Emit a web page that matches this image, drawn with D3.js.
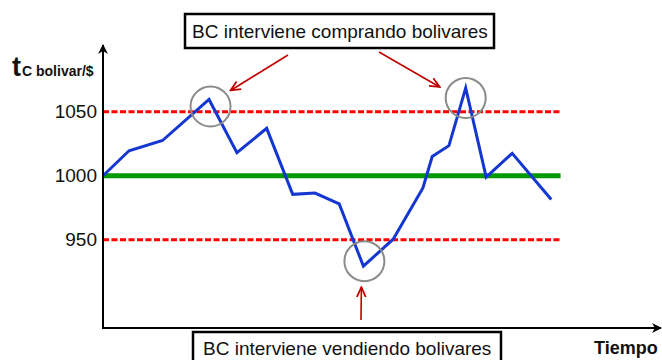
<!DOCTYPE html>
<html>
<head>
<meta charset="utf-8">
<script src="https://cdn.jsdelivr.net/npm/d3@7"></script>
<style>
  html, body { margin: 0; padding: 0; background: #fff; }
  svg { display: block; font-family: "Liberation Sans", Arial, sans-serif; }
</style>
</head>
<body>
<svg id="chart" width="662" height="360"></svg>
<script>
// ---- data ----
const timePoints = [0, 1.4, 3.2, 5.7, 7.2, 8.8, 10.2, 11.4, 12.7, 14.0, 15.6, 17.2, 17.7, 18.6, 19.5, 20.6, 22.0, 24.1];
const exchangeRate = [1000, 1019.5, 1027.5, 1059.5, 1018, 1037, 985.5, 986.5, 978, 929.5, 950.5, 990.5, 1015, 1023.5, 1068.5, 999, 1017.5, 981.5];
const bandLevels = [950, 1050];
const centralLevel = 1000;
const tickValues = [950, 1000, 1050];
const bandEnd = 24.6;
const interventionIdx = [3, 14, 9]; // points circled
const labelTop = "BC interviene comprando bolivares";
const labelBottom = "BC interviene vendiendo bolivares";
const yTitleMain = "t";
const yTitleSub = "C bolivar/$";
const xTitle = "Tiempo";

// ---- layout ----
const svg = d3.select("#chart");
const x0 = 103, x1 = 661, yBase = 328, yTop = 45;
const x = d3.scaleLinear().domain([0, 30]).range([x0, x1]);
const y = d3.scaleLinear().domain([881.25, 1102]).range([yBase, yTop]);

const defs = svg.append("defs");
defs.append("marker").attr("id", "axArrow").attr("viewBox", "0 0 10 10")
  .attr("refX", 9).attr("refY", 5).attr("markerWidth", 10).attr("markerHeight", 10)
  .attr("markerUnits", "userSpaceOnUse").attr("orient", "auto")
  .append("path").attr("d", "M0,0 L10,5 L0,10 L3,5 Z").attr("fill", "#000");
defs.append("marker").attr("id", "redArrow").attr("viewBox", "0 0 10 10")
  .attr("refX", 9).attr("refY", 5).attr("markerWidth", 11).attr("markerHeight", 11)
  .attr("markerUnits", "userSpaceOnUse").attr("orient", "auto")
  .append("path").attr("d", "M0,1 L9,5 L0,9").attr("fill", "none")
  .attr("stroke", "#c00000").attr("stroke-width", 1.6);

// band lines
svg.selectAll("line.band").data(bandLevels).join("line").attr("class", "band")
  .attr("x1", x(0)).attr("x2", x(bandEnd))
  .attr("y1", d => y(d)).attr("y2", d => y(d))
  .attr("stroke", "#ff0000").attr("stroke-width", 3).attr("stroke-dasharray", "6,2.5");

// central line
svg.append("line").attr("x1", x(0)).attr("x2", x(bandEnd))
  .attr("y1", y(centralLevel)).attr("y2", y(centralLevel))
  .attr("stroke", "#009900").attr("stroke-width", 5);

// series line
const line = d3.line().x((d, i) => x(timePoints[i])).y(d => y(d));
svg.append("path").datum(exchangeRate).attr("d", line)
  .attr("fill", "none").attr("stroke", "#1437d2").attr("stroke-width", 3)
  .attr("stroke-linejoin", "miter");

// axes
const yAxis = d3.axisLeft(y).tickValues(tickValues).tickSize(0).tickPadding(6).tickFormat(d3.format("d"));
const gy = svg.append("g").attr("transform", `translate(${x0},0)`).call(yAxis);
gy.select(".domain").remove();
gy.selectAll("text").attr("font-size", 19).attr("fill", "#111").attr("font-family", "Liberation Sans, Arial, sans-serif");

svg.append("line").attr("x1", x0).attr("x2", x0).attr("y1", yBase + 1).attr("y2", yTop)
  .attr("stroke", "#000").attr("stroke-width", 2).attr("marker-end", "url(#axArrow)");
svg.append("line").attr("x1", x0 - 1).attr("x2", x1).attr("y1", yBase).attr("y2", yBase)
  .attr("stroke", "#000").attr("stroke-width", 2).attr("marker-end", "url(#axArrow)");

// axis titles
const yt = svg.append("text").attr("x", 12).attr("y", 76).attr("font-weight", "bold").attr("fill", "#111");
yt.append("tspan").attr("font-size", 27).text(yTitleMain);
yt.append("tspan").attr("font-size", 14).attr("dx", 1).text(yTitleSub);
svg.append("text").attr("x", 594).attr("y", 354).attr("font-weight", "bold")
  .attr("font-size", 18).attr("fill", "#111").text(xTitle);

// intervention circles
const circOffsets = [[1.5, 7], [0, 10], [1, -5]];
const circles = interventionIdx.map((idx, k) => ({
  cx: x(timePoints[idx]) + circOffsets[k][0],
  cy: y(exchangeRate[idx]) + circOffsets[k][1]
}));
svg.selectAll("circle.int").data(circles).join("circle").attr("class", "int")
  .attr("cx", d => d.cx).attr("cy", d => d.cy).attr("r", 20)
  .attr("fill", "none").attr("stroke", "#8a8a8a").attr("stroke-width", 2);

// annotation boxes
function box(bx, by, bw, bh, text, tx, ty) {
  svg.append("rect").attr("x", bx).attr("y", by).attr("width", bw).attr("height", bh)
    .attr("fill", "#fff").attr("stroke", "#000").attr("stroke-width", 2.5);
  svg.append("text").attr("x", tx).attr("y", ty).attr("font-size", 19).attr("fill", "#111").text(text);
}
box(185, 14, 309, 34, labelTop, 192, 38);
box(193, 332, 308, 40, labelBottom, 203, 355);

// arrows
const arrows = [
  { from: [288, 55], c: 0, off: [20, -16] },
  { from: [379, 52], c: 1, off: [-26, -11] },
  { from: [361, 320], c: 2, off: [-3, 26] }
];
svg.selectAll("line.arr").data(arrows).join("line").attr("class", "arr")
  .attr("x1", d => d.from[0]).attr("y1", d => d.from[1])
  .attr("x2", d => circles[d.c].cx + d.off[0]).attr("y2", d => circles[d.c].cy + d.off[1])
  .attr("stroke", "#c00000").attr("stroke-width", 1.6).attr("marker-end", "url(#redArrow)");
</script>
</body>
</html>
